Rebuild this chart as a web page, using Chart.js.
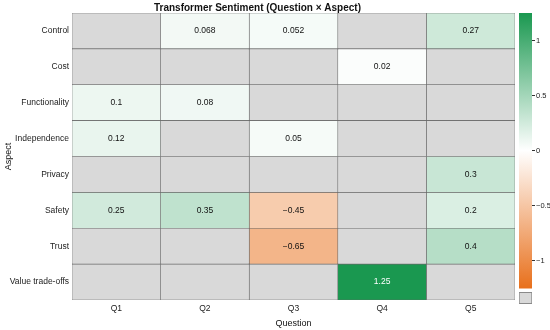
<!DOCTYPE html>
<html>
<head>
<meta charset="utf-8">
<title>Transformer Sentiment</title>
<script src="https://cdn.jsdelivr.net/npm/chart.js@4.4.1/dist/chart.umd.min.js"></script>
<style>
  html, body { margin: 0; padding: 0; background: #fff; overflow: hidden; }
  #wrap { position: relative; width: 550px; height: 330px; }
  #heatmap { position: absolute; left: 0; top: 0; }
  #colorbar { position: absolute; left: 515px; top: 0; }
</style>
</head>
<body>
<div id="wrap">
  <canvas id="heatmap" width="550" height="330"></canvas>
  <canvas id="colorbar" width="36" height="330"></canvas>
</div>
<script>
// --- Data ---
const aspects = ['Control', 'Cost', 'Functionality', 'Independence', 'Privacy', 'Safety', 'Trust', 'Value trade-offs'];
const questions = ['Q1', 'Q2', 'Q3', 'Q4', 'Q5'];

// one array per question column, in aspect order (null = no data)
const q1Values = [null, null, 0.1, 0.12, null, 0.25, null, null];
const q2Values = [0.068, null, 0.08, null, null, 0.35, null, null];
const q3Values = [0.052, null, null, 0.05, null, -0.45, -0.65, null];
const q4Values = [null, 0.02, null, null, null, null, null, 1.25];
const q5Values = [0.27, null, null, null, 0.3, 0.2, 0.4, null];
const columns = [q1Values, q2Values, q3Values, q4Values, q5Values];

const colorbarTicks = [-1, -0.5, 0, 0.5, 1];
const colorbarMin = -1.25;
const colorbarMax = 1.25;

// --- Styling helpers ---
const FONT = "'Liberation Sans', Arial, Helvetica, sans-serif";
const GREEN = [26, 152, 80];
const ORANGE = [232, 112, 28];
const MISSING = '#d9d9d9';

function fmt(v) {
    return String(v).replace('-', '\u2212');
}

function colorFor(v) {
    if (v === null || v === undefined) return MISSING;
    const t = Math.min(Math.abs(v) / colorbarMax, 1);
    const end = v >= 0 ? GREEN : ORANGE;
    const c = end.map(e => Math.round(255 + (e - 255) * t));
    return `rgb(${c[0]}, ${c[1]}, ${c[2]})`;
}

// draws the value in the middle of each cell
const cellLabels = {
    id: 'cellLabels',
    afterDatasetsDraw(chart) {
        const ctx = chart.ctx;
        ctx.save();
        ctx.font = `8.5px ${FONT}`;
        ctx.textAlign = 'center';
        ctx.textBaseline = 'middle';
        chart.data.datasets.forEach((ds, i) => {
            const meta = chart.getDatasetMeta(i);
            meta.data.forEach((el, j) => {
                const v = ds.values[j];
                if (v === null) return;
                ctx.fillStyle = Math.abs(v) > 0.9 ? '#fff' : '#111';
                ctx.fillText(fmt(v), (el.x + el.base) / 2, el.y);
            });
        });
        ctx.restore();
    }
};

// --- Heatmap ---
new Chart(document.getElementById('heatmap'), {
    type: 'bar',
    data: {
        labels: aspects,
        datasets: columns.map((vals, i) => ({
            label: questions[i],
            values: vals,
            data: aspects.map(() => [i, i + 1]),
            backgroundColor: vals.map(colorFor),
            borderColor: '#666',
            borderWidth: 0.6,
            borderSkipped: false,
            barPercentage: 1,
            categoryPercentage: 1,
            grouped: false
        }))
    },
    options: {
        indexAxis: 'y',
        responsive: false,
        animation: false,
        layout: { padding: { right: 35, left: 0, bottom: 0, top: 0 } },
        plugins: {
            legend: { display: false },
            tooltip: { enabled: false },
            title: {
                display: true,
                text: 'Transformer Sentiment (Question \u00d7 Aspect)',
                color: '#111',
                font: { family: FONT, size: 10, weight: 'bold', lineHeight: 1 },
                padding: { top: 3, bottom: 0 }
            }
        },
        scales: {
            x: {
                type: 'linear',
                min: 0,
                max: questions.length,
                afterBuildTicks: scale => {
                    scale.ticks = questions.map((q, i) => ({ value: i + 0.5 }));
                },
                ticks: {
                    callback: v => questions[Math.floor(v)],
                    color: '#222',
                    font: { family: FONT, size: 8.5 },
                    padding: 4,
                    maxRotation: 0
                },
                grid: { display: false, drawTicks: false },
                border: { display: false },
                title: {
                    display: true,
                    text: 'Question',
                    color: '#111',
                    font: { family: FONT, size: 9 },
                    padding: { top: 0, bottom: 1 }
                }
            },
            y: {
                type: 'category',
                afterFit: scale => { scale.width = 72; },
                ticks: {
                    color: '#222',
                    font: { family: FONT, size: 8.5 },
                    padding: 3
                },
                grid: { display: false, drawTicks: false },
                border: { display: false },
                title: {
                    display: true,
                    text: 'Aspect',
                    color: '#111',
                    font: { family: FONT, size: 9 },
                    padding: { top: 3, bottom: 0 }
                }
            }
        }
    },
    plugins: [cellLabels]
});

// --- Colour bar ---
new Chart(document.getElementById('colorbar'), {
    type: 'bar',
    data: {
        labels: [''],
        datasets: [{
            data: [[colorbarMin, colorbarMax]],
            backgroundColor: ctx => {
                const chart = ctx.chart;
                if (!chart.chartArea) return '#fff';
                const ys = chart.scales.y;
                const g = chart.ctx.createLinearGradient(0, ys.getPixelForValue(colorbarMax), 0, ys.getPixelForValue(colorbarMin));
                g.addColorStop(0, `rgb(${GREEN.join(',')})`);
                g.addColorStop(0.5, '#ffffff');
                g.addColorStop(1, `rgb(${ORANGE.join(',')})`);
                return g;
            },
            borderWidth: 0,
            barPercentage: 1,
            categoryPercentage: 1,
            grouped: false
        }, {
            // swatch for missing values
            data: [[-1.29, -1.392]],
            backgroundColor: MISSING,
            borderColor: '#8a8a8a',
            borderWidth: 1,
            borderSkipped: false,
            barPercentage: 1,
            categoryPercentage: 1,
            grouped: false
        }]
    },
    options: {
        responsive: false,
        animation: false,
        layout: { padding: { left: 4, top: 13, bottom: 26, right: 0 } },
        plugins: { legend: { display: false }, tooltip: { enabled: false } },
        scales: {
            x: { display: false },
            y: {
                position: 'right',
                min: -1.395,
                max: colorbarMax,
                afterFit: scale => { scale.width = 19; },
                afterBuildTicks: scale => {
                    scale.ticks = colorbarTicks.map(v => ({ value: v }));
                },
                ticks: {
                    callback: v => fmt(v),
                    color: '#222',
                    font: { family: FONT, size: 7.5 },
                    padding: 1
                },
                grid: { drawOnChartArea: false, tickLength: 3, color: '#333' },
                border: { display: false }
            }
        }
    }
});
</script>
</body>
</html>
